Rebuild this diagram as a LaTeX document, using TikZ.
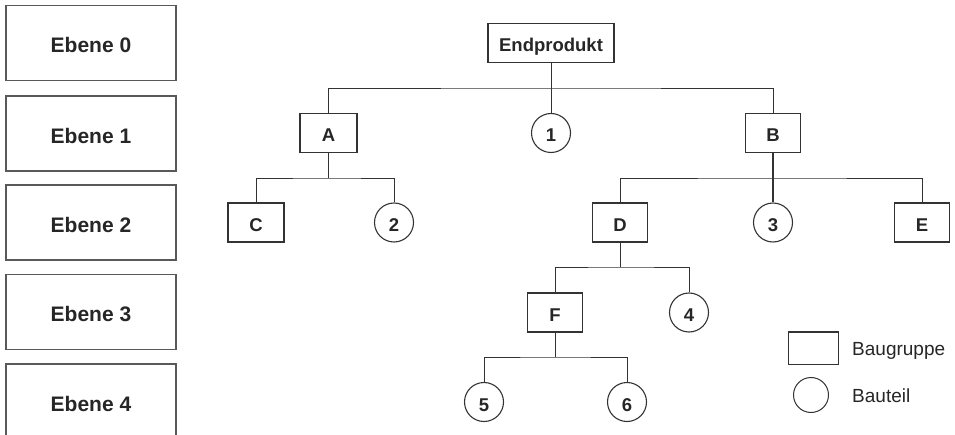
\documentclass[tikz,border=0pt]{standalone}
\usepackage{fontspec}
\setmainfont{Liberation Sans}
\begin{document}
\begin{tikzpicture}[x=1pt,y=-1pt,
  level/.style={draw=black!65,line width=1.6pt,minimum width=170pt,minimum height=75pt,inner sep=0pt,text height=20pt,text depth=0pt,font=\fontsize{21}{21}\selectfont\bfseries,text=black!85},
  bg/.style={draw=black!80,line width=1.1pt,minimum width=55pt,minimum height=39pt,inner sep=0pt,text height=18pt,text depth=0pt,font=\fontsize{18.5}{18.5}\selectfont\bfseries,text=black!85},
  tl/.style={draw=black!80,line width=1.1pt,circle,minimum size=39pt,inner sep=0pt,text height=18pt,text depth=0pt,font=\fontsize{18.5}{18.5}\selectfont\bfseries,text=black!85},
  edge/.style={draw=black!80,line width=0.9pt},
  legtext/.style={anchor=west,font=\fontsize{19}{19}\selectfont,text=black!85,inner sep=0pt,text height=13.6pt,text depth=0pt}]
\useasboundingbox (0,0) rectangle (955,435);
\begin{scope}
\clip (0,0) rectangle (955,435);
\node[level] (e0) at (91,43) {Ebene 0};
\node[level] (e1) at (91,133.5) {Ebene 1};
\node[level] (e2) at (91,222.5) {Ebene 2};
\node[level] (e3) at (91,312) {Ebene 3};
\node[level] (e4) at (91,401.5) {Ebene 4};
\end{scope}
% level 0
\node[bg,minimum width=126pt] (end) at (551,43) {Endprodukt};
% level 1
\node[bg,minimum width=57pt] (A) at (328.5,133) {A};
\node[tl] (one) at (551,133) {1};
\node[bg] (B) at (773,133) {B};
% level 2
\node[bg,minimum width=56pt] (C) at (256,222.5) {C};
\node[tl] (two) at (394,222.5) {2};
\node[bg] (D) at (620,222.5) {D};
\node[tl] (three) at (773,222.5) {3};
\node[bg] (E) at (922,222.5) {E};
% level 3
\node[bg] (F) at (555,312.5) {F};
\node[tl] (four) at (689,312.5) {4};
% level 4
\node[tl] (five) at (484,402) {5};
\node[tl] (six) at (627,402) {6};
% buses
\coordinate (b0) at (551,88);
\coordinate (b1) at (328.5,178);
\coordinate (b2) at (773,178);
\coordinate (b3) at (620,267);
\coordinate (b4) at (555,357);
\draw[edge] (A.north) |- (b0) -| (B.north);
\draw[edge] (end) -- (one);
\draw[edge] (C.north) |- (b1) -| (two.north);
\draw[edge] (A.south) -- (b1);
\draw[edge] (D.north) |- (b2) -| (E.north);
\draw[edge,line width=1.6pt] (B) -- (three);
\draw[edge] (F.north) |- (b3) -| (four.north);
\draw[edge] (D.south) -- (b3);
\draw[edge] (five.north) |- (b4) -| (six.north);
\draw[edge] (F.south) -- (b4);
% legend
\node[draw=black!80,line width=1pt,minimum width=50pt,minimum height=32pt,inner sep=0pt] (lgbox) at (813,348) {};
\node[draw=black!80,line width=1pt,circle,minimum size=35pt,inner sep=0pt] (lgcirc) at (811,395) {};
\node[legtext] (lgt1) at (852,349) {Baugruppe};
\node[legtext] (lgt2) at (852,396) {Bauteil};
\end{tikzpicture}
\end{document}
